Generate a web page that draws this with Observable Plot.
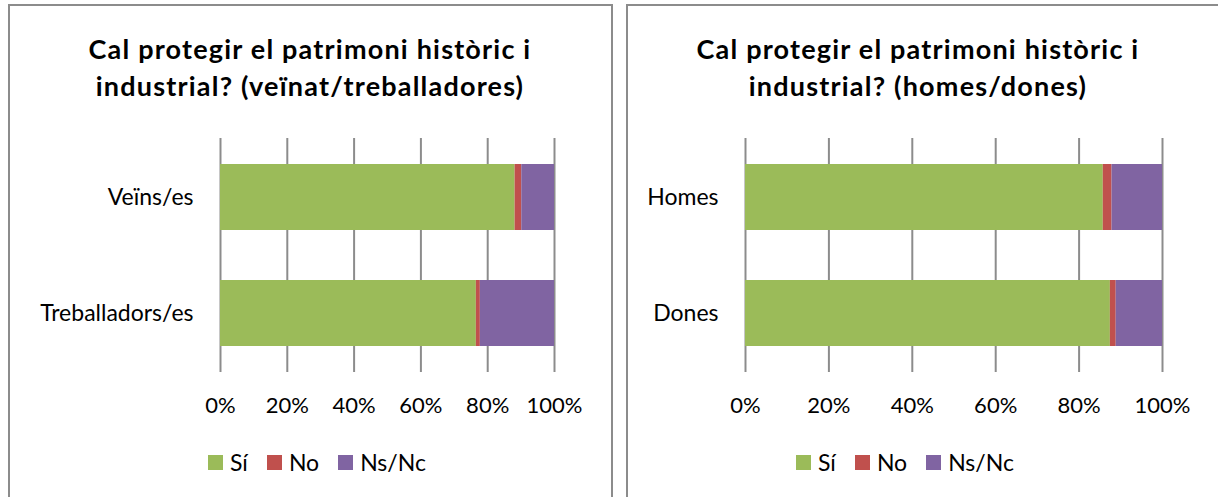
<!DOCTYPE html>
<html>
<head>
<meta charset="utf-8">
<script src="https://cdn.jsdelivr.net/npm/d3@7"></script>
<script src="https://cdn.jsdelivr.net/npm/@observablehq/plot@0.6"></script>
<style>
  html, body { margin: 0; padding: 0; background: #fff; }
  body { position: relative; width: 1218px; height: 497px; overflow: hidden; font-family: Lato, "Open Sans", sans-serif; }
  .panel { position: absolute; top: 4px; height: 560px; border: 2px solid #8c8c8c; box-sizing: border-box; }
  .title { position: absolute; top: 30px; text-align: center; font-weight: bold; font-size: 27px; letter-spacing: 1.2px; line-height: 37px; color: #000; white-space: nowrap; }
  .chart { position: absolute; top: 120px; }
  .legend { position: absolute; top: 448px; display: flex; align-items: center; font-size: 23px; color: #000; }
  .legend .item { display: flex; align-items: center; margin-right: 19px; }
  .legend .sw { width: 15px; height: 15px; margin-right: 7px; }
</style>
</head>
<body>
<div class="panel" style="left:8px; width:605px;"></div>
<div class="panel" style="left:626px; width:620px;"></div>
<div class="title" style="left:10px; width:600px;">Cal protegir el patrimoni històric i<br>industrial? (veïnat/treballadores)</div>
<div class="title" style="left:628px; width:580px;">Cal protegir el patrimoni històric i<br>industrial? (homes/dones)</div>
<div id="c1" class="chart" style="left:0px;"></div>
<div id="c2" class="chart" style="left:620px;"></div>
<div id="l1" class="legend" style="left:208px;"></div>
<div id="l2" class="legend" style="left:796px;"></div>
<script>
// ---- data ----
const seriesNames = ["Sí", "No", "Ns/Nc"];
const seriesColors = ["#9bbb59", "#c0504d", "#8064a2"];
const xTicks = [0, 20, 40, 60, 80, 100];

const categories1 = ["Veïns/es", "Treballadors/es"];
const si1 = [88.2, 76.6];
const no1 = [2.0, 1.2];
const nsnc1 = [9.8, 22.2];

const categories2 = ["Homes", "Dones"];
const si2 = [85.8, 87.5];
const no2 = [2.1, 1.4];
const nsnc2 = [12.1, 11.1];

function tidy(cats, a, b, c) {
  const rows = [];
  cats.forEach((cat, i) => {
    rows.push({cat, serie: seriesNames[0], v: a[i]});
    rows.push({cat, serie: seriesNames[1], v: b[i]});
    rows.push({cat, serie: seriesNames[2], v: c[i]});
  });
  return rows;
}

function chart(cats, rows, width, marginLeft, marginRight) {
  return Plot.plot({
    width, height: 310,
    marginTop: 18, marginBottom: 58, marginLeft, marginRight,
    style: {fontFamily: "Lato, 'Open Sans', sans-serif", fontSize: "22px", color: "#000", background: "transparent"},
    x: {domain: [0, 100], label: null},
    y: {domain: cats, paddingInner: 0.43, paddingOuter: 0.216, label: null},
    color: {domain: seriesNames, range: seriesColors},
    marks: [
      Plot.ruleX(xTicks, {stroke: "#8c8c8c", strokeWidth: 2}),
      Plot.barX(rows, Plot.stackX({x: "v", y: "cat", fill: "serie", order: null})),
      Plot.axisX({ticks: xTicks, tickFormat: d => d + "%", tickSize: 0, tickPadding: 25, fill: "#000", fontSize: 22}),
      Plot.axisY({tickSize: 0, tickPadding: 27, fill: "#000", fontSize: 23})
    ]
  });
}

document.getElementById("c1").append(chart(categories1, tidy(categories1, si1, no1, nsnc1), 612, 220, 58));
document.getElementById("c2").append(chart(categories2, tidy(categories2, si2, no2, nsnc2), 598, 125, 56));

function legend(id) {
  const el = document.getElementById(id);
  seriesNames.forEach((s, i) => {
    const item = document.createElement("div");
    item.className = "item";
    const sw = document.createElement("div");
    sw.className = "sw";
    sw.style.background = seriesColors[i];
    const t = document.createElement("span");
    t.textContent = s;
    item.append(sw, t);
    el.append(item);
  });
}
legend("l1");
legend("l2");
</script>
</body>
</html>
